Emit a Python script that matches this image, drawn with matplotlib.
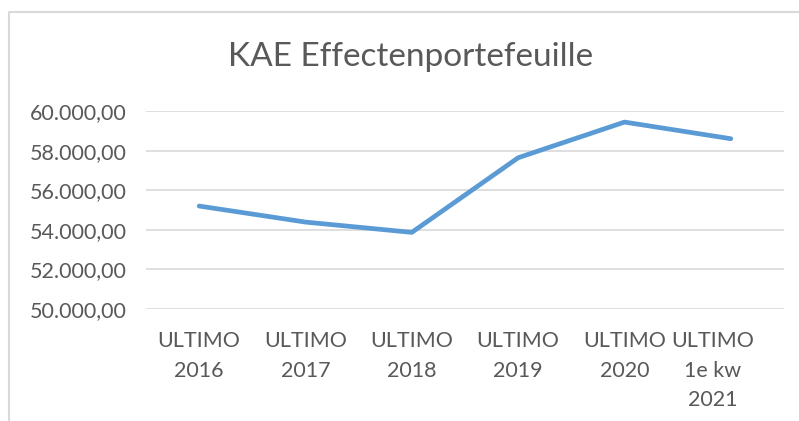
import matplotlib
matplotlib.use("Agg")
import matplotlib.pyplot as plt
from matplotlib.lines import Line2D
from matplotlib.ticker import FuncFormatter
from matplotlib.transforms import ScaledTranslation

categories = ["ULTIMO\n2016", "ULTIMO\n2017", "ULTIMO\n2018", "ULTIMO\n2019",
              "ULTIMO\n2020", "ULTIMO\n1e kw\n2021"]
values = [55200, 54390, 53870, 57640, 59440, 58600]
yticks = [50000, 52000, 54000, 56000, 58000, 60000]

text_col = "#595959"
plt.rcParams["font.family"] = ["Lato", "DejaVu Sans"]

fig = plt.figure(figsize=(7.99, 4.21), dpi=100)
ax = fig.add_axes([146 / 799, 1 - 309 / 421, (784 - 146) / 799, (309 - 111) / 421])

# outer chart frame (only left and top visible in the crop)
fig.add_artist(Line2D([9 / 799, 9 / 799, 1], [0, 1 - 12 / 421, 1 - 12 / 421],
                      transform=fig.transFigure, color="#D9D9D9", lw=1.5))

x = list(range(len(categories)))
ax.plot(x, values, color="#5B9BD5", lw=3.4, solid_capstyle="round",
        solid_joinstyle="round", zorder=3)

ax.set_xlim(-0.5, len(categories) - 0.5)
ax.set_ylim(50000, 60000)
ax.set_yticks(yticks)
ax.yaxis.set_major_formatter(FuncFormatter(
    lambda v, p: f"{v:,.2f}".replace(",", "X").replace(".", ",").replace("X", ".")))
ax.set_xticks(x)
ax.set_xticklabels(categories, linespacing=1.6, va="top")
ax.grid(axis="y", color="#D9D9D9", lw=1.2)
ax.set_axisbelow(True)
for s in ax.spines.values():
    s.set_visible(False)
ax.tick_params(axis="both", length=0, colors=text_col, labelsize=15.5)
ax.tick_params(axis="x", pad=16)
ax.tick_params(axis="y", pad=14)

# last label is pushed left to stay inside the plot area
last = ax.get_xticklabels()[-1]
last.set_transform(last.get_transform() + ScaledTranslation(-0.18, 0, fig.dpi_scale_trans))

fig.text(411 / 799, 1 - 57 / 421, "KAE Effectenportefeuille", ha="center", va="center",
         fontsize=24, color=text_col)

fig.savefig("out.png", dpi=100)
